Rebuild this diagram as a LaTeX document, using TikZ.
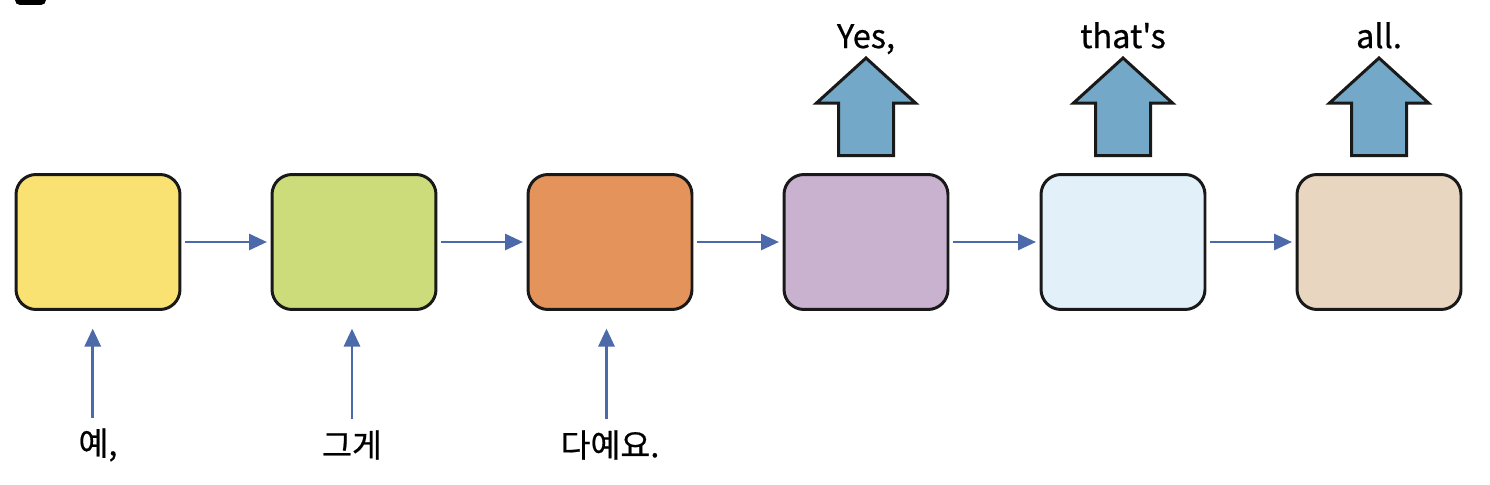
\documentclass[tikz,border=0pt]{standalone}
\usepackage{fontspec}
\usepackage{xcolor}
\usepackage{tikz}
\usetikzlibrary{arrows.meta,positioning}
\newfontfamily\krfont{Noto Sans CJK KR}[FakeBold=0.6]

\definecolor{cellyellow}{HTML}{F9E272}
\definecolor{cellgreen}{HTML}{CCDC7A}
\definecolor{cellorange}{HTML}{E4935B}
\definecolor{cellpurple}{HTML}{C8B2D0}
\definecolor{cellice}{HTML}{E2F0FA}
\definecolor{cellbeige}{HTML}{E8D6C0}
\definecolor{linkblue}{HTML}{4C6AAA}
\definecolor{outblue}{HTML}{74A8C9}

\begin{document}
\begin{tikzpicture}[x=0.02cm, y=0.02cm,
	cell/.style={draw=black!90, line width=1.7pt, rounded corners=0.4cm, minimum width=3.28cm, minimum height=2.7cm},
	link/.style={draw=linkblue, line width=1.7pt, -{Triangle[length=0.36cm,width=0.32cm]}},
	word/.style={font=\krfont\fontsize{18.5}{22}\selectfont, inner sep=2pt},
	fatarrow/.style={draw=black!90, line width=1.7pt, fill=outblue, line join=miter}]
	\clip (0,0) rectangle (1490,484);
	\useasboundingbox (0,0) rectangle (1490,484);

	% cut-off title mark
	\fill[black, rounded corners=0.1cm] (15,479) rectangle (46,510);

	% the six cells
	\node[cell, fill=cellyellow] (e1) at (98,242) {};
	\node[cell, fill=cellgreen] (e2) at (354,242) {};
	\node[cell, fill=cellorange] (e3) at (610,242) {};
	\node[cell, fill=cellpurple] (d1) at (866,242) {};
	\node[cell, fill=cellice] (d2) at (1123,242) {};
	\node[cell, fill=cellbeige] (d3) at (1379,242) {};

	% cell to cell
	\draw[link, shorten <=2pt, shorten >=2pt] (e1) -- (e2);
	\draw[link, shorten <=2pt, shorten >=2pt] (e2) -- (e3);
	\draw[link, shorten <=2pt, shorten >=2pt] (e3) -- (d1);
	\draw[link, shorten <=2pt, shorten >=2pt] (d1) -- (d2);
	\draw[link, shorten <=2pt, shorten >=2pt] (d2) -- (d3);

	% input words
	\node[word] (w1) at (98,39) {예,};
	\node[word] (w2) at (352,39) {그게};
	\node[word] (w3) at (610,39) {다예요.};
	\draw[link, shorten <=4pt, shorten >=10pt] ([xshift=-3pt]w1.north) -- ([xshift=-3pt]w1.north |- e1.south);
	\draw[link, shorten <=4pt, shorten >=10pt] (w2.north) -- (w2.north |- e2.south);
	\draw[link, shorten <=4pt, shorten >=10pt] ([xshift=-2pt]w3.north) -- ([xshift=-2pt]w3.north |- e3.south);

	% output words
	\foreach \c/\t in {d1/{Yes,}, d2/{that's}, d3/{all.}}{
		\draw[fatarrow, shift={(\c.north)}]
			(-27.5,17.5) -- (-27.5,70) -- (-49.5,70) -- (0,115) -- (49.5,70) -- (27.5,70) -- (27.5,17.5) -- cycle;
		\node[word, anchor=base] (o\c) at ([yshift=2.5cm]\c.north) {\t};
	}
\end{tikzpicture}
\end{document}
